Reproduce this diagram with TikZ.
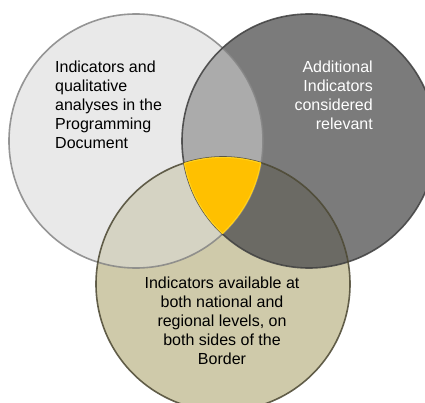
\documentclass[tikz,border=0pt]{standalone}
\usepackage{fontspec}
\setmainfont{Liberation Sans}
\definecolor{lfill}{HTML}{E9E9E9}
\definecolor{rfill}{HTML}{7B7B7B}
\definecolor{bfill}{HTML}{CFCAAA}
\definecolor{lrfill}{HTML}{ABABAB}
\definecolor{lbfill}{HTML}{D5D3C3}
\definecolor{rbfill}{HTML}{6B6A64}
\definecolor{core}{HTML}{FFC000}
\definecolor{coreedge}{HTML}{FFD21F}
\definecolor{ledge}{HTML}{858585}
\definecolor{redge}{HTML}{404040}
\definecolor{bedge}{HTML}{4B4732}
\begin{document}
\begin{tikzpicture}[x=1pt,y=-1pt,
  ring/.style={line width=1.6pt},
  label/.style={inner sep=0pt, font=\fontsize{16}{19}\selectfont}]
\useasboundingbox (0,0) rectangle (425,403);
\clip (0,0) rectangle (425,403);
\def\rad{127}
\coordinate (L) at (136,141);
\coordinate (R) at (309,141);
\coordinate (B) at (223,284);
% base discs
\fill[lfill] (L) circle (\rad);
\fill[rfill] (R) circle (\rad);
\fill[bfill] (B) circle (\rad);
% pairwise overlaps
\begin{scope}\clip (L) circle (\rad); \fill[lrfill] (R) circle (\rad);\end{scope}
\begin{scope}\clip (L) circle (\rad); \fill[lbfill] (B) circle (\rad);\end{scope}
\begin{scope}\clip (R) circle (\rad); \fill[rbfill] (B) circle (\rad);\end{scope}
% outlines
\draw[ring, draw=ledge, opacity=0.85] (L) circle (\rad);
\draw[ring, draw=redge, opacity=0.85] (R) circle (\rad);
\draw[ring, draw=bedge, opacity=0.85] (B) circle (\rad);
% common core with a thin light inner edge
\begin{scope}
  \clip (L) circle (\rad);
  \clip (R) circle (\rad);
  \clip (B) circle (\rad);
  \fill[core] (B) circle (\rad);
  \draw[coreedge, line width=2pt] (L) circle (\rad);
  \draw[coreedge, line width=2pt] (R) circle (\rad);
  \draw[coreedge, line width=2pt] (B) circle (\rad);
\end{scope}
% labels
\node[label, anchor=north west, align=left] (ltext) at (55,61)
  {Indicators and\\qualitative\\analyses in the\\Programming\\Document};
\node[label, anchor=north east, align=right, text=white] (rtext) at (373,61)
  {Additional\\Indicators\\considered\\relevant};
\node[label, anchor=north, align=center] (btext) at (222,277)
  {Indicators available at\\both national and\\regional levels, on\\both sides of the\\Border};
\end{tikzpicture}
\end{document}
